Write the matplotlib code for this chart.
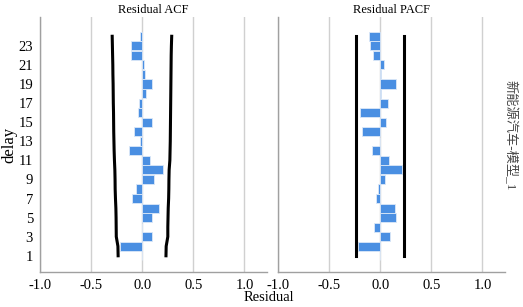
import numpy as np
import matplotlib
matplotlib.use("Agg")
from matplotlib import pyplot as plt

lags = list(range(1, 25))
acf = [-0.005, -0.215, 0.10, -0.005, 0.10, 0.16, -0.10, -0.06, 0.11, 0.20, 0.075, -0.13,
       -0.02, -0.08, 0.095, -0.04, -0.03, 0.035, 0.10, 0.03, 0.02, -0.11, -0.11, -0.02]
pacf = [-0.005, -0.22, 0.10, -0.06, 0.155, 0.145, -0.045, -0.025, 0.05, 0.21, 0.09, -0.08,
        0.002, -0.18, 0.06, -0.20, 0.08, 0.01, 0.15, 0.004, 0.04, -0.07, -0.10, -0.105]
acf_upper = [0.232, 0.234, 0.250, 0.250, 0.252, 0.254, 0.258, 0.260, 0.261, 0.263, 0.270, 0.272,
             0.274, 0.275, 0.276, 0.277, 0.278, 0.279, 0.280, 0.281, 0.282, 0.283, 0.285, 0.288]
acf_lower = [-0.236, -0.238, -0.254, -0.255, -0.256, -0.258, -0.262, -0.265, -0.266, -0.268, -0.272, -0.275,
             -0.277, -0.279, -0.280, -0.281, -0.283, -0.284, -0.285, -0.287, -0.288, -0.290, -0.292, -0.294]
pacf_bound = 0.235
xticks = [-1.0, -0.5, 0.0, 0.5, 1.0]
ytick_lags = list(range(1, 24, 2))
titles = ["Residual ACF", "Residual PACF"]
side_label = "新能源汽车-模型_1"

plt.rcParams['font.family'] = ['Liberation Serif', 'Noto Sans CJK SC']
plt.rcParams['font.size'] = 9

bar_color = "#4a8fe2"
spine_color = "#a0a0a0"

fig = plt.figure(figsize=(5.23, 3.07), dpi=100)
ax1 = fig.add_axes([0.0765, 0.114, 0.434, 0.83])
ax2 = fig.add_axes([0.5315, 0.114, 0.434, 0.83])

def style(ax, title):
    ax.set_xlim(-1.0, 1.22)
    ax.set_ylim(-0.7, 26)
    ax.set_xticks(xticks)
    ax.set_xticklabels([f"{v:.1f}" for v in xticks])
    ax.set_yticks(ytick_lags)
    ax.grid(axis='x', color="#d0d0d0", linewidth=1.0)
    ax.set_axisbelow(True)
    for s in ['top', 'right']:
        ax.spines[s].set_visible(False)
    for s in ['left', 'bottom']:
        ax.spines[s].set_color(spine_color)
        ax.spines[s].set_linewidth(1.0)
    ax.tick_params(length=0, pad=5, labelsize=10.5)
    ax.set_title(title, fontsize=9, pad=3)

style(ax1, titles[0])
ax1.barh(lags, acf, height=0.95, color=bar_color, edgecolor="#dbe8f8", linewidth=0.6, zorder=2)
ax1.plot(acf_upper, lags, color='black', linewidth=2.2, zorder=3)
ax1.plot(acf_lower, lags, color='black', linewidth=2.2, zorder=3)
ax1.set_ylabel("delay", fontsize=12, labelpad=1)

style(ax2, titles[1])
ax2.barh(lags, pacf, height=0.95, color=bar_color, edgecolor="#dbe8f8", linewidth=0.6, zorder=2)
ax2.plot([pacf_bound, pacf_bound], [lags[0], lags[-1]], color='black', linewidth=2.2, zorder=3)
ax2.plot([-pacf_bound, -pacf_bound], [lags[0], lags[-1]], color='black', linewidth=2.2, zorder=3)
ax2.tick_params(axis='y', labelleft=False)

fig.text(0.515, 0.03, "Residual", ha='center', va='center', fontsize=10.5)
fig.text(0.975, 0.56, side_label, rotation=270, ha='center', va='center', fontsize=9.5, color="#444444")

fig.savefig("out.png", dpi=100)
